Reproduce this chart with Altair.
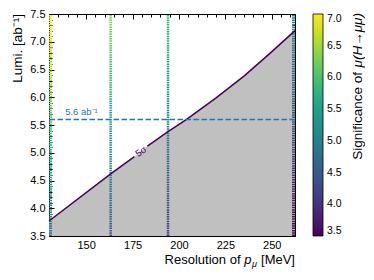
import altair as alt
import pandas as pd

# ---- data ----
# 5 sigma contour (resolution [MeV], luminosity [ab^-1]); piece b starts after the inline label gap
curve_res = [130.0, 163.2, 176.0, 183.0, 194.1, 204.1, 220.0, 235.0, 249.0, 262.5]
curve_lumi = [3.77, 4.62, 4.93, 5.12, 5.38, 5.60, 5.99, 6.38, 6.79, 7.20]
curve_piece = ["a", "a", "a", "b", "b", "b", "b", "b", "b", "b"]

# scanned resolutions and significance along luminosity
scan_res = [130.0, 163.2, 194.1, 262.5]
scan_edge = [True, False, False, True]
scan_lumi = [3.5, 3.75, 4.0, 4.25, 4.5, 4.75, 5.0, 5.25, 5.5, 5.75, 6.0, 6.25, 6.5, 6.75, 7.0, 7.25, 7.5]
sig_130 = [4.82, 4.99, 5.15, 5.31, 5.46, 5.61, 5.76, 5.90, 6.04, 6.17, 6.31, 6.44, 6.57, 6.69, 6.81, 6.93, 7.05]
sig_163 = [4.35, 4.50, 4.65, 4.80, 4.93, 5.07, 5.20, 5.33, 5.46, 5.58, 5.70, 5.82, 5.93, 6.04, 6.15, 6.26, 6.37]
sig_194 = [4.03, 4.17, 4.31, 4.44, 4.57, 4.70, 4.82, 4.94, 5.06, 5.17, 5.28, 5.39, 5.50, 5.60, 5.70, 5.80, 5.90]
sig_262 = [3.49, 3.61, 3.73, 3.84, 3.95, 4.06, 4.17, 4.27, 4.37, 4.47, 4.56, 4.66, 4.75, 4.84, 4.93, 5.02, 5.10]

ref_lumi = 5.6
ref_label = "5.6 ab⁻¹"
ref_label_res = 138.7
contour_label = "5σ"
contour_label_res = 179.6
contour_label_lumi = 5.02

x_major = [150, 175, 200, 225, 250]
x_minor = [135, 140, 145, 155, 160, 165, 170, 180, 185, 190, 195, 205, 210, 215, 220,
           230, 235, 240, 245, 255, 260]
y_major = [3.5, 4.0, 4.5, 5.0, 5.5, 6.0, 6.5, 7.0, 7.5]
y_minor = [3.6, 3.7, 3.8, 3.9, 4.1, 4.2, 4.3, 4.4, 4.6, 4.7, 4.8, 4.9, 5.1, 5.2, 5.3, 5.4,
           5.6, 5.7, 5.8, 5.9, 6.1, 6.2, 6.3, 6.4, 6.6, 6.7, 6.8, 6.9, 7.1, 7.2, 7.3, 7.4]
cbar_ticks = [3.5, 4.0, 4.5, 5.0, 5.5, 6.0, 6.5, 7.0]

FONT = "Liberation Sans"

curve_df = pd.DataFrame({"res": curve_res, "lumi": curve_lumi, "piece": curve_piece})
rows = []
for r, e, sig in zip(scan_res, scan_edge, [sig_130, sig_163, sig_194, sig_262]):
    for i in range(len(scan_lumi) - 1):
        rows.append({"res": r, "edge": e, "lo": scan_lumi[i], "hi": scan_lumi[i + 1],
                     "sig": (sig[i] + sig[i + 1]) / 2})
scan_df = pd.DataFrame(rows)

xs = alt.Scale(domain=[130, 262.5], nice=False, zero=False)
ys = alt.Scale(domain=[3.5, 7.5], nice=False, zero=False)
cs = alt.Scale(domain=[3.5, 7.0], scheme="viridis", clamp=True)


def ax(orient, values, size, labels=False, pad=3):
    kw = dict(orient=orient, values=values, tickSize=size, offset=-size, domain=False,
              grid=False, labels=labels, title=None, tickColor="black", tickWidth=1)
    if labels:
        kw.update(labelFontSize=11, labelFont=FONT, labelColor="black", labelPadding=pad,
                  labelFlush=False, labelOverlap=False, format=".1f" if orient in ("left", "right") else "d")
    return alt.Axis(**kw)


area = alt.Chart(curve_df).mark_area(color="#c0c0c0", opacity=1).encode(
    x=alt.X("res:Q", scale=xs, axis=ax("bottom", x_major, 5, True, 3)),
    y=alt.Y("lumi:Q", scale=ys, axis=ax("left", y_major, 5, True, 4)),
    y2=alt.datum(3.5),
)

legend = alt.Legend(
    orient="none", legendX=264, legendY=0, direction="vertical", gradientLength=222,
    gradientThickness=10, title=None, values=cbar_ticks, format=".1f", labelFontSize=10.5,
    labelFont=FONT, labelColor="black", labelOffset=4, gradientStrokeColor="black",
    gradientStrokeWidth=0.8, labelOverlap=False, padding=0)

scan_in = alt.Chart(scan_df).transform_filter("!datum.edge").mark_rule(
    strokeWidth=2.5, strokeDash=[1.5, 0.8], clip=True).encode(
    x=alt.X("res:Q", scale=xs, axis=ax("top", x_major, 5)),
    y=alt.Y("lo:Q", scale=ys, axis=ax("right", y_major, 5)),
    y2="hi:Q",
    color=alt.Color("sig:Q", scale=cs, legend=legend),
)

scan_edge_l = alt.Chart(scan_df).transform_filter("datum.edge").mark_rule(
    strokeWidth=6, strokeDash=[1.5, 0.8], clip=True).encode(
    x=alt.X("res:Q", scale=xs, axis=None),
    y=alt.Y("lo:Q", scale=ys, axis=None),
    y2="hi:Q",
    color=alt.Color("sig:Q", scale=cs, legend=None),
)

line = alt.Chart(curve_df).mark_line(color="#440154", strokeWidth=1.5).encode(
    x=alt.X("res:Q", scale=xs, axis=ax("bottom", x_minor, 3)),
    y=alt.Y("lumi:Q", scale=ys, axis=ax("left", y_minor, 3)),
    detail="piece:N",
)

ref_rule = alt.Chart(pd.DataFrame({"lumi": [ref_lumi]})).mark_rule(
    color="#1f77b4", strokeWidth=1.5, strokeDash=[5.5, 2.5]).encode(
    y=alt.Y("lumi:Q", scale=ys, axis=None))

ref_text = alt.Chart(pd.DataFrame({"res": [ref_label_res], "lumi": [ref_lumi], "t": [ref_label]})).mark_text(
    align="left", baseline="bottom", dy=-2, fontSize=9.5, font=FONT, color="#1f77b4").encode(
    x=alt.X("res:Q", scale=xs, axis=None), y=alt.Y("lumi:Q", scale=ys, axis=None), text="t:N")

c_text = alt.Chart(pd.DataFrame({"res": [contour_label_res], "lumi": [contour_label_lumi], "t": [contour_label]})).mark_text(
    align="center", baseline="middle", angle=325, fontSize=9.5, font=FONT, color="#440154").encode(
    x=alt.X("res:Q", scale=xs, axis=ax("top", x_minor, 3)),
    y=alt.Y("lumi:Q", scale=ys, axis=ax("right", y_minor, 3)), text="t:N")


def label(t, x, y, angle=0, align="left", baseline="alphabetic", size=13.5, style="normal"):
    return alt.Chart(pd.DataFrame({"t": [t]})).mark_text(
        align=align, baseline=baseline, angle=angle, fontSize=size, font=FONT,
        fontStyle=style, color="black").encode(x=alt.value(x), y=alt.value(y), text="t:N")


titles = [
    label("[MeV]", 246, 250, align="right", size=13),
    label("μ", 208, 253, align="right", size=9, style="italic"),
    label("p", 202.5, 250, align="right", size=13, style="italic"),
    label("Resolution of", 191.5, 250, align="right", size=13),
    label("Lumi. [ab⁻¹]", -31, 0, angle=270, align="right", baseline="middle"),
    label("μ(H→μμ)", 309, -1, angle=270, align="right", baseline="middle", style="italic"),
    label("Significance of", 309, 58, angle=270, align="right", baseline="middle"),
]

chart = alt.layer(area, scan_in, scan_edge_l, line, ref_rule, ref_text, c_text, *titles).resolve_axis(
    x="independent", y="independent").properties(
    width=246, height=222,
    padding={"left": 41, "top": 6, "right": 70, "bottom": 36},
    autosize=alt.AutoSizeParams(type="none"),
).configure_view(stroke="black", strokeWidth=1)

chart.save("out.html", embed_options={"renderer": "svg", "actions": False})
